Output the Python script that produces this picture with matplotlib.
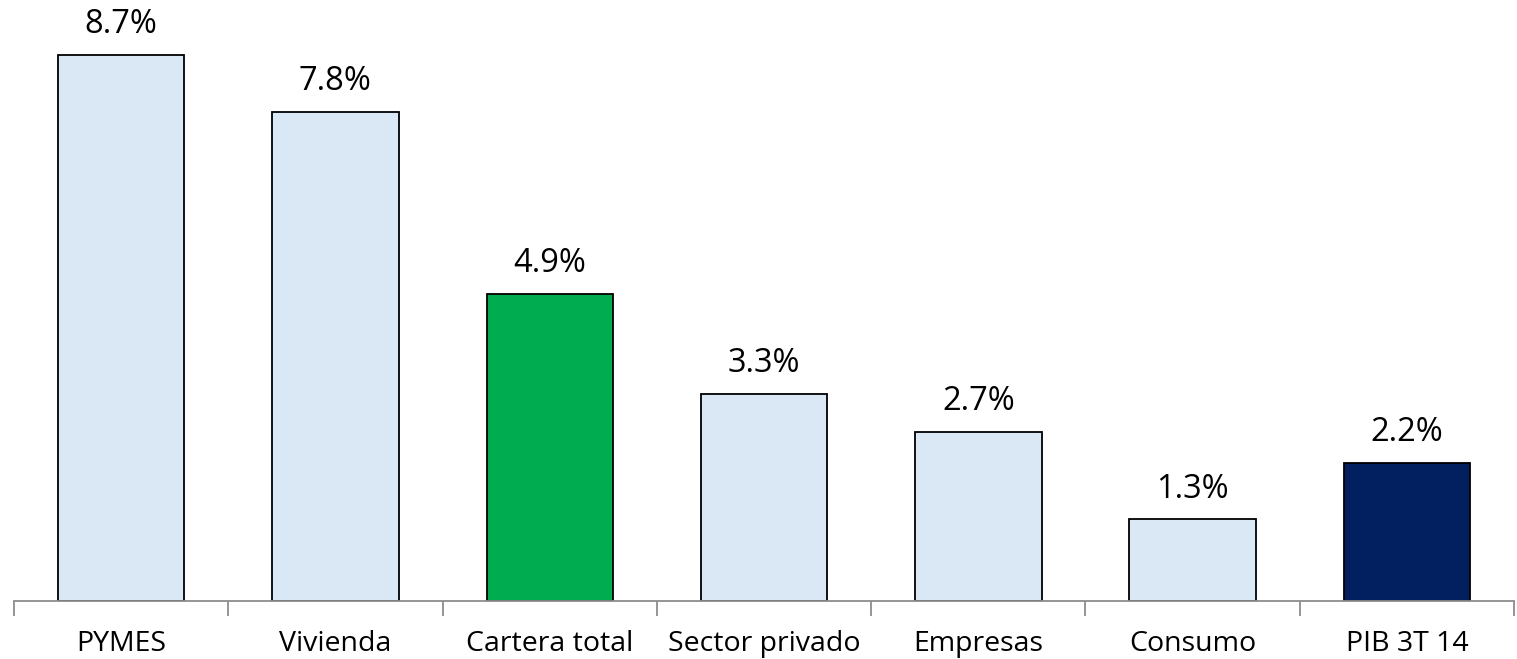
import matplotlib
matplotlib.use("Agg")
import matplotlib.pyplot as plt

categories = ["PYMES", "Vivienda", "Cartera total", "Sector privado", "Empresas", "Consumo", "PIB 3T 14"]
values = [8.7, 7.8, 4.9, 3.3, 2.7, 1.3, 2.2]
labels = ["8.7%", "7.8%", "4.9%", "3.3%", "2.7%", "1.3%", "2.2%"]
colors = ["#DAE7F5", "#DAE7F5", "#00AC50", "#DAE7F5", "#DAE7F5", "#DAE7F5", "#022060"]

plt.rcParams['font.family'] = ['Open Sans', 'DejaVu Sans']

fig = plt.figure(figsize=(15.17, 6.59), dpi=100)
ax = fig.add_axes([14/1517, 1 - 601/659, 1500/1517, 601/659])

x = list(range(len(categories)))
ax.bar(x, values, width=0.59, color=colors, edgecolor="black", linewidth=1.3, zorder=2)
for xi, v, lab in zip(x, values, labels):
    ax.text(xi, v + 0.22, lab, ha="center", va="bottom", fontsize=23.5, color="black")

ax.set_xlim(-0.5, len(categories) - 0.5)
ax.set_ylim(0, 9.58)
ax.set_yticks([])
ax.set_xticks(x)
ax.set_xticklabels(categories, fontsize=20.5)
ax.set_xticks([i - 0.5 for i in range(len(categories) + 1)], minor=True)
ax.tick_params(axis="x", which="major", length=0, pad=21)
ax.tick_params(axis="x", which="minor", length=11, width=1.3, color="#8C8C8C", direction="out")
for s in ["top", "right", "left"]:
    ax.spines[s].set_visible(False)
ax.spines["bottom"].set_color("#8C8C8C")
ax.spines["bottom"].set_linewidth(1.3)
ax.spines["bottom"].set_zorder(3)

fig.savefig("out.png", dpi=100)
